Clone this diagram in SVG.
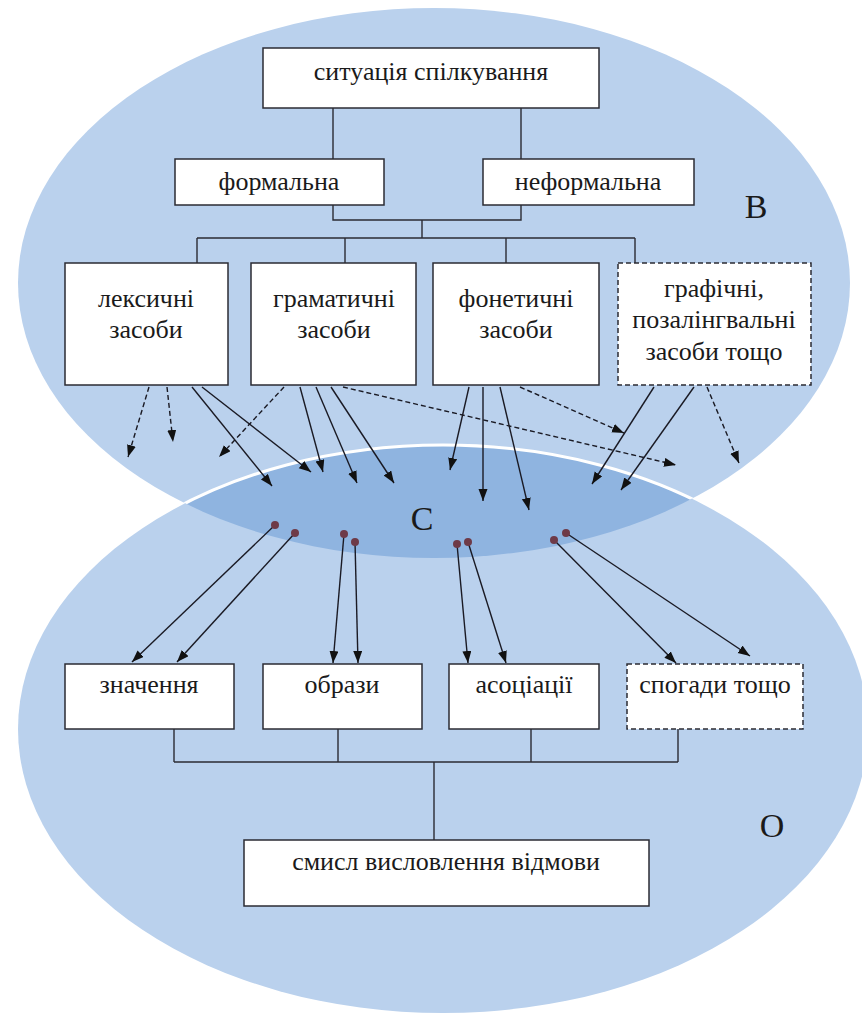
<svg xmlns="http://www.w3.org/2000/svg" width="862" height="1014" viewBox="0 0 862 1014">
<style>
.box{fill:#fff;stroke:#2b2b33;stroke-width:1.5}
.dbox{fill:#fff;stroke:#2b2b33;stroke-width:1.5;stroke-dasharray:5 3}
.ln{fill:none;stroke:#2b2b33;stroke-width:1.4}
.ar{fill:none;stroke:#1a1a24;stroke-width:1.4;marker-end:url(#ah)}
.da{fill:none;stroke:#1a1a24;stroke-width:1.4;stroke-dasharray:5 3;marker-end:url(#ah)}
.t{font-size:26px;fill:#1a1a1a;text-anchor:middle}
.big{font-size:34px;fill:#1a1a1a;text-anchor:middle}
.dot{fill:#6e3a48}
</style>
<defs>
<marker id="ah" markerUnits="userSpaceOnUse" markerWidth="13" markerHeight="10" refX="12" refY="4.5" orient="auto">
<path d="M0,0 L12,4.5 L0,9 z" fill="#111"/>
</marker>
<clipPath id="topClip"><ellipse cx="434" cy="283" rx="416" ry="275"/></clipPath>
</defs>
<g id="background">
<ellipse cx="434" cy="283" rx="416" ry="275" fill="#bad1ed"/>
<ellipse cx="443" cy="729" rx="425" ry="284" fill="#bad1ed"/>
<ellipse cx="443" cy="729" rx="425" ry="284" fill="#8fb4e0" clip-path="url(#topClip)"/>
<ellipse cx="443" cy="729" rx="425" ry="284" fill="none" stroke="#ffffff" stroke-width="3" clip-path="url(#topClip)"/>
</g>
<g id="labels" font-family="'Liberation Serif', 'Times New Roman', 'DejaVu Serif', serif">
<text class="big" x="756" y="218">В</text>
<text class="big" x="422" y="530">С</text>
<text class="big" x="772" y="837">О</text>
</g>
<g id="connectors">
<path class="ln" d="M333,108 V159 M521,108 V159"/>
<path class="ln" d="M333,205 V220 H521 V205 M422,220 V238 M197,238 H635 M197,238 V263 M345,238 V263 M506,238 V263 M635,238 V263"/>
<path class="ln" d="M174,729 V762 M338,729 V762 M531,729 V762 M678,729 V762 M174,762 H678 M434,762 V840"/>
<line class="da" x1="149" y1="387" x2="128" y2="457"/>
<line class="da" x1="167" y1="387" x2="173" y2="442"/>
<line class="ar" x1="192" y1="387" x2="272" y2="486"/>
<line class="ar" x1="202" y1="387" x2="311" y2="472"/>
<line class="da" x1="284" y1="387" x2="219" y2="457"/>
<line class="ar" x1="300" y1="387" x2="323" y2="472"/>
<line class="ar" x1="316" y1="387" x2="357" y2="483"/>
<line class="ar" x1="331" y1="387" x2="394" y2="483"/>
<line class="da" x1="343" y1="387" x2="676" y2="465"/>
<line class="ar" x1="469" y1="387" x2="450" y2="470"/>
<line class="ar" x1="483" y1="387" x2="483" y2="501"/>
<line class="ar" x1="500" y1="387" x2="529" y2="510"/>
<line class="da" x1="520" y1="387" x2="624" y2="433"/>
<line class="ar" x1="654" y1="387" x2="592" y2="484"/>
<line class="ar" x1="694" y1="387" x2="621" y2="490"/>
<line class="da" x1="707" y1="387" x2="739" y2="463"/>
<line class="ar" x1="275" y1="525" x2="132" y2="662"/>
<line class="ar" x1="295" y1="533" x2="177" y2="662"/>
<line class="ar" x1="344" y1="534" x2="333" y2="663"/>
<line class="ar" x1="355" y1="542" x2="358" y2="663"/>
<line class="ar" x1="457" y1="544" x2="468" y2="663"/>
<line class="ar" x1="468" y1="542" x2="506" y2="663"/>
<line class="ar" x1="554" y1="540" x2="676" y2="663"/>
<line class="ar" x1="566" y1="533" x2="750" y2="656"/>
<circle class="dot" cx="275" cy="525" r="4"/>
<circle class="dot" cx="295" cy="533" r="4"/>
<circle class="dot" cx="344" cy="534" r="4"/>
<circle class="dot" cx="355" cy="542" r="4"/>
<circle class="dot" cx="457" cy="544" r="4"/>
<circle class="dot" cx="468" cy="542" r="4"/>
<circle class="dot" cx="554" cy="540" r="4"/>
<circle class="dot" cx="566" cy="533" r="4"/>
</g>
<g id="nodes" font-family="'Liberation Serif', 'Times New Roman', 'DejaVu Serif', serif">
<g id="node-situation"><rect class="box" x="263" y="48" width="336" height="60"/><text class="t" x="431" y="80">ситуація спілкування</text></g>
<g id="node-formal"><rect class="box" x="175" y="159" width="209" height="46"/><text class="t" x="279" y="190">формальна</text></g>
<g id="node-informal"><rect class="box" x="483" y="159" width="211" height="46"/><text class="t" x="588" y="190">неформальна</text></g>
<g id="node-lexical"><rect class="box" x="65" y="263" width="163" height="122"/><text class="t" x="146" y="307">лексичні</text><text class="t" x="146" y="338">засоби</text></g>
<g id="node-grammatical"><rect class="box" x="251" y="263" width="165" height="122"/><text class="t" x="334" y="307">граматичні</text><text class="t" x="334" y="338">засоби</text></g>
<g id="node-phonetic"><rect class="box" x="433" y="263" width="166" height="122"/><text class="t" x="516" y="307">фонетичні</text><text class="t" x="516" y="338">засоби</text></g>
<g id="node-graphic"><rect class="dbox" x="618" y="263" width="193" height="122"/><text class="t" x="714" y="297">графічні,</text><text class="t" x="714" y="328">позалінгвальні</text><text class="t" x="714" y="360">засоби тощо</text></g>
<g id="node-meaning"><rect class="box" x="65" y="664" width="169" height="65"/><text class="t" x="149" y="693">значення</text></g>
<g id="node-images"><rect class="box" x="263" y="664" width="159" height="65"/><text class="t" x="342" y="693">образи</text></g>
<g id="node-associations"><rect class="box" x="449" y="664" width="150" height="65"/><text class="t" x="524" y="693">асоціації</text></g>
<g id="node-memories"><rect class="dbox" x="627" y="664" width="176" height="65"/><text class="t" x="715" y="693">спогади тощо</text></g>
<g id="node-sense"><rect class="box" x="244" y="840" width="405" height="66"/><text class="t" x="446" y="870">смисл висловлення відмови</text></g>
</g>
</svg>
